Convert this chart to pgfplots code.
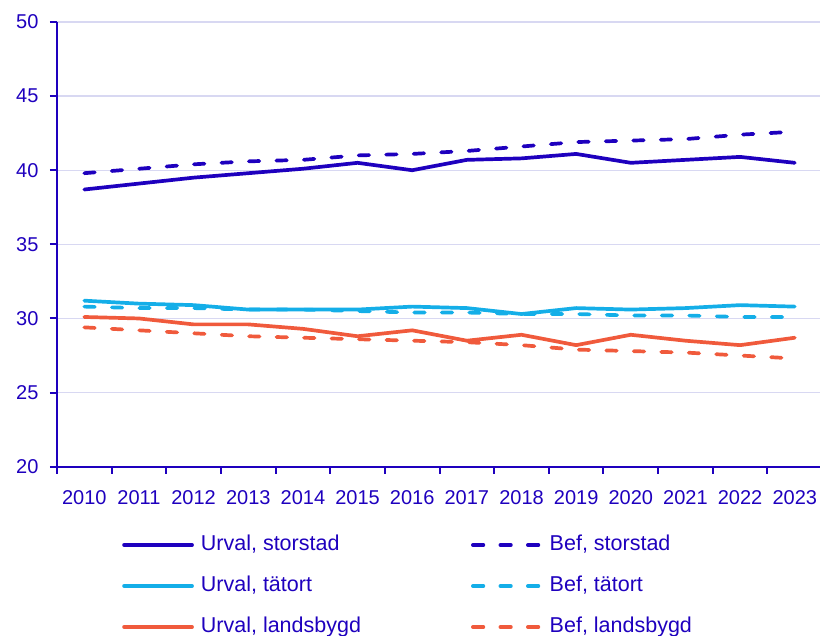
\documentclass[border=0pt]{standalone}
\usepackage{pgfplots}
\pgfplotsset{compat=1.18}
\usepackage{fontspec}
\setmainfont{Liberation Sans}
\definecolor{sdark}{HTML}{1E00BE}
\definecolor{slight}{HTML}{14AEE8}
\definecolor{sorange}{HTML}{F05A3C}
\definecolor{sgrid}{HTML}{D8D8F2}
\begin{document}
\begin{tikzpicture}
\begin{axis}[
  scale only axis, width=763bp, height=444.7bp,
  xmin=-0.5, xmax=13.462, ymin=20, ymax=50,
  axis x line=bottom, axis y line=left,
  axis line style={-, draw=sdark, line width=2bp},
  ytick={20,25,...,50},
  ymajorgrids, grid style={draw=sgrid, line width=1.3bp},
  xtick={-0.5,0.5,...,12.5}, xticklabels={},
  extra x ticks={0,1,2,3,4,5,6,7,8,9,10,11,12,13},
  extra x tick labels={2010,2011,2012,2013,2014,2015,2016,2017,2018,2019,2020,2021,2022,2023},
  extra x tick style={major tick length=0pt, grid=none},
  tick align=outside, major tick length=7bp,
  tick style={draw=sdark, line width=2bp},
  ticklabel style={font=\fontsize{20bp}{24bp}\selectfont, text=sdark},
  /pgf/number format/assume math mode=true,
  yticklabel style={xshift=-8bp},
  xticklabel style={yshift=-20bp},
  legend columns=2,
  legend style={draw=none, fill=none, inner sep=0pt, at={(axis description cs:0.0852,-0.152)}, anchor=north west,
    font=\fontsize{21.5bp}{26bp}\selectfont, text=sdark,
    nodes={inner sep=0pt, text height=16bp, text depth=5bp},
    /tikz/every odd column/.append style={column sep=7bp},
    /tikz/every even column/.append style={column sep=110bp},
    row sep=20bp, cells={anchor=west}},
  legend image code/.code={\draw[#1] (0bp,0bp) -- (68bp,0bp);},
  every axis plot/.append style={line width=3.7bp, line cap=round, line join=round},
  bef/.style={dash pattern=on 10.5bp off 17bp},
]
\addplot[sdark] coordinates {(0,38.7)(1,39.1)(2,39.5)(3,39.8)(4,40.1)(5,40.5)(6,40.0)(7,40.7)(8,40.8)(9,41.1)(10,40.5)(11,40.7)(12,40.9)(13,40.5)};
\addlegendentry{Urval, storstad}
\addplot[sdark, bef] coordinates {(0,39.8)(1,40.1)(2,40.4)(3,40.6)(4,40.7)(5,41.0)(6,41.1)(7,41.3)(8,41.6)(9,41.9)(10,42.0)(11,42.1)(12,42.4)(13,42.6)};
\addlegendentry{Bef, storstad}
\addplot[slight] coordinates {(0,31.2)(1,31.0)(2,30.9)(3,30.6)(4,30.6)(5,30.6)(6,30.8)(7,30.7)(8,30.3)(9,30.7)(10,30.6)(11,30.7)(12,30.9)(13,30.8)};
\addlegendentry{Urval, tätort}
\addplot[slight, bef] coordinates {(0,30.8)(1,30.7)(2,30.7)(3,30.6)(4,30.6)(5,30.5)(6,30.4)(7,30.4)(8,30.3)(9,30.3)(10,30.2)(11,30.2)(12,30.1)(13,30.1)};
\addlegendentry{Bef, tätort}
\addplot[sorange] coordinates {(0,30.1)(1,30.0)(2,29.6)(3,29.6)(4,29.3)(5,28.8)(6,29.2)(7,28.5)(8,28.9)(9,28.2)(10,28.9)(11,28.5)(12,28.2)(13,28.7)};
\addlegendentry{Urval, landsbygd}
\addplot[sorange, bef] coordinates {(0,29.4)(1,29.2)(2,29.0)(3,28.8)(4,28.7)(5,28.6)(6,28.5)(7,28.4)(8,28.2)(9,27.9)(10,27.8)(11,27.7)(12,27.5)(13,27.3)};
\addlegendentry{Bef, landsbygd}
\end{axis}
\pgfresetboundingbox
\useasboundingbox (-57bp,-169.3bp) rectangle (763bp,466.7bp);
\end{tikzpicture}
\end{document}
